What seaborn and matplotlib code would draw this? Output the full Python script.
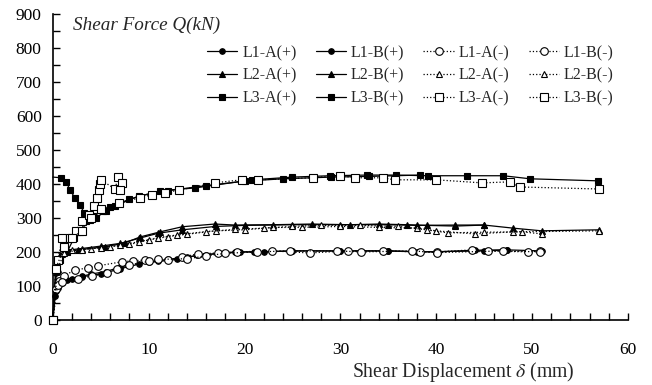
import numpy as np
import pandas as pd
import matplotlib
matplotlib.use("Agg")
import matplotlib.pyplot as plt
import seaborn as sns

# ---- data (x: displacement mm, y: shear force kN) ----
l1a_p_x = [0, 0.2, 0.5, 1, 2, 3, 4, 5.5, 7, 8, 10, 12, 14, 16, 19, 21, 25, 30, 35, 40, 44, 47.4, 51]
l1a_p_y = [0, 70, 95, 110, 120, 128, 135, 142, 155, 162, 170, 178, 185, 192, 200, 200, 203, 203, 203, 200, 205, 206, 203]
l1b_p_x = [0, 0.3, 0.7, 1.5, 3, 5, 7, 9, 11, 13, 15, 19.5, 22, 25, 30, 35, 38, 45, 47.4]
l1b_p_y = [0, 85, 105, 118, 127, 135, 150, 165, 172, 178, 190, 200, 200, 203, 203, 203, 200, 203, 206]
l1a_m_x = [0, 0.3, 0.6, 1.2, 2.3, 3.7, 4.7, 7.2, 8.4, 9.6, 12, 13.5, 15.1, 17.2, 19.2, 22.9,
           26.8, 30.8, 34.4, 38.3, 40.1, 43.7, 45.4, 49.6, 50.8]
l1a_m_y = [0, 90, 115, 130, 147, 153, 159, 171, 174, 176, 176, 185, 194, 197, 200, 203,
           197, 203, 203, 200, 200, 206, 203, 200, 203]
l1b_m_x = [0, 0.5, 1, 2.6, 4.1, 5.7, 6.7, 8, 10, 11, 14, 16, 18, 21.3, 24.7, 29.6, 32.2, 37.5, 40.1, 47, 50.8]
l1b_m_y = [0, 103, 112, 121, 129, 138, 150, 162, 172, 178, 180, 188, 196, 200, 203, 203, 200, 203, 198, 203, 200]

l2a_p_x = [0, 0.3, 0.8, 1.5, 3, 5, 7, 9, 11, 13.5, 17, 20, 25, 30, 35, 38, 42, 45, 48, 51, 57]
l2a_p_y = [0, 140, 190, 205, 210, 217, 225, 240, 255, 265, 275, 278, 280, 280, 280, 278, 279, 279, 270, 262, 265]
l2b_p_x = [0, 0.4, 1.2, 2.6, 5.4, 7.5, 9.1, 11.2, 13.5, 16.9, 19, 23, 27, 31, 34, 37, 39, 42, 45]
l2b_p_y = [0, 147, 200, 206, 215, 226, 244, 259, 274, 282, 279, 280, 282, 280, 282, 280, 278, 276, 279]
l2a_m_x = [0, 0.4, 1, 2, 4, 6, 8, 10, 12, 14, 17, 20, 23, 26, 30, 34, 38, 40, 44, 48, 57]
l2a_m_y = [0, 145, 195, 205, 210, 215, 222, 235, 245, 252, 262, 265, 272, 272, 275, 272, 270, 262, 253, 259, 262]
l2b_m_x = [0, 0.5, 1.2, 3, 5, 7, 9, 11, 13, 16, 19, 22, 25, 28, 32, 36, 39, 41.2, 45, 49, 51]
l2b_m_y = [0, 150, 198, 207, 212, 220, 230, 242, 250, 260, 266, 270, 275, 278, 278, 275, 265, 256, 258, 259, 253]

l3a_p_x = [0, 0.3, 0.8, 1.5, 2.2, 2.8, 3.5, 4.2, 5.2, 6, 8, 11.2, 14.8, 20.8, 25, 28.9, 32.8,
           35.8, 39.1, 43.2, 47, 49.8, 56.9]
l3a_p_y = [0, 150, 175, 200, 240, 260, 290, 305, 320, 332, 355, 380, 388, 412, 420, 424, 426,
           426, 424, 424, 424, 415, 409]
l3b_p_x = [0, 0.9, 1.4, 1.8, 2.3, 2.8, 3.3, 3.9, 4.5, 5.5, 6.5, 9, 12, 16, 20, 24, 29, 33, 38.3]
l3b_p_y = [420, 418, 406, 382, 359, 338, 315, 295, 300, 320, 335, 365, 380, 395, 408, 415, 420, 422, 426]
l3a_m_x = [0, 0.5, 1, 1.8, 2.4, 3, 3.8, 4.3, 4.6, 4.8, 4.9, 5, 6.5, 6.8, 7.2, 7]
l3a_m_y = [0, 176, 240, 240, 262, 290, 310, 335, 360, 382, 400, 412, 385, 420, 403, 382]
l3b_m_x = [0, 0.3, 1.2, 2, 3, 4, 5, 6.9, 9.1, 10.3, 11.7, 13.2, 16.9, 19.7, 21.4, 27.1, 30, 31.5,
           34.4, 35.7, 40, 44.8, 47.7, 48.7, 57]
l3b_m_y = [0, 150, 215, 240, 262, 300, 325, 344, 359, 368, 374, 382, 403, 412, 412, 418, 424, 418,
           418, 412, 412, 403, 406, 391, 385]

series = [
    # column order of the legend: A(+), B(+), A(-), B(-)
    ("L1-A(+)", l1a_p_x, l1a_p_y, "o", True),
    ("L2-A(+)", l2a_p_x, l2a_p_y, "^", True),
    ("L3-A(+)", l3a_p_x, l3a_p_y, "s", True),
    ("L1-B(+)", l1b_p_x, l1b_p_y, "o", True),
    ("L2-B(+)", l2b_p_x, l2b_p_y, "^", True),
    ("L3-B(+)", l3b_p_x, l3b_p_y, "s", True),
    ("L1-A(-)", l1a_m_x, l1a_m_y, "o", False),
    ("L2-A(-)", l2a_m_x, l2a_m_y, "^", False),
    ("L3-A(-)", l3a_m_x, l3a_m_y, "s", False),
    ("L1-B(-)", l1b_m_x, l1b_m_y, "o", False),
    ("L2-B(-)", l2b_m_x, l2b_m_y, "^", False),
    ("L3-B(-)", l3b_m_x, l3b_m_y, "s", False),
]

sns.set_style("ticks")
plt.rcParams['font.family'] = ['Liberation Serif', 'DejaVu Serif']
plt.rcParams['mathtext.fontset'] = 'stix'

fig = plt.figure(figsize=(6.52, 3.85), dpi=100)
ax = fig.add_axes([0.081, 0.169, 0.882, 0.795])

# marker sizes (filled, open)
msize = {"o": (4.0, 5.5), "^": (4.5, 5.0), "s": (4.8, 5.2)}
for label, xs, ys, mk, filled in series:
    df = pd.DataFrame({"x": xs, "y": ys})
    # L3-B(+) starts from the axis line without a marker
    every = slice(1, None) if label == "L3-B(+)" else None
    sns.lineplot(data=df, x="x", y="y", ax=ax, sort=False, estimator=None,
                 color="black", linewidth=0.9,
                 linestyle="-" if filled else ":",
                 marker=mk, markersize=msize[mk][0] if filled else msize[mk][1],
                 markerfacecolor="black" if filled else "white",
                 markeredgecolor="black", markeredgewidth=0.8, markevery=every,
                 label=label, clip_on=False, zorder=3)

ax.set_xlim(0, 60)
ax.set_ylim(0, 900)
ax.set_xticks(np.arange(0, 61, 10))
ax.set_xticks(np.arange(0, 61, 2), minor=True)
ax.set_yticks(np.arange(0, 901, 100))
ax.set_yticks(np.arange(0, 901, 50), minor=True)
ax.tick_params(axis="both", which="both", direction="in", colors="black", labelsize=12.5)
ax.tick_params(axis="both", which="both", length=5, width=1)
ax.tick_params(axis="x", which="both", pad=16)
ax.tick_params(axis="y", which="both", pad=8)
for s in ["top", "right"]:
    ax.spines[s].set_visible(False)
for s in ["left", "bottom"]:
    ax.spines[s].set_color("black")
    ax.spines[s].set_linewidth(1.2)

ax.set_xlabel("")
ax.set_ylabel("")
ax.text(0.035, 0.99, "Shear Force Q(kN)", transform=ax.transAxes, fontsize=13.8,
        style="italic", ha="left", va="top")
fig.text(463 / 652, 1 - 372 / 385, r"Shear Displacement $\delta$ (mm)", fontsize=14.2,
         ha="center", va="center")

leg = ax.legend(loc="upper left", bbox_to_anchor=(207 / 652, 1 - 45 / 385),
                bbox_transform=fig.transFigure, ncol=4, frameon=False, fontsize=11.5,
                handlelength=1.9, handletextpad=0.3, columnspacing=1.2,
                labelspacing=0.42, borderaxespad=0, borderpad=0)

fig.savefig("out.png", dpi=100)
